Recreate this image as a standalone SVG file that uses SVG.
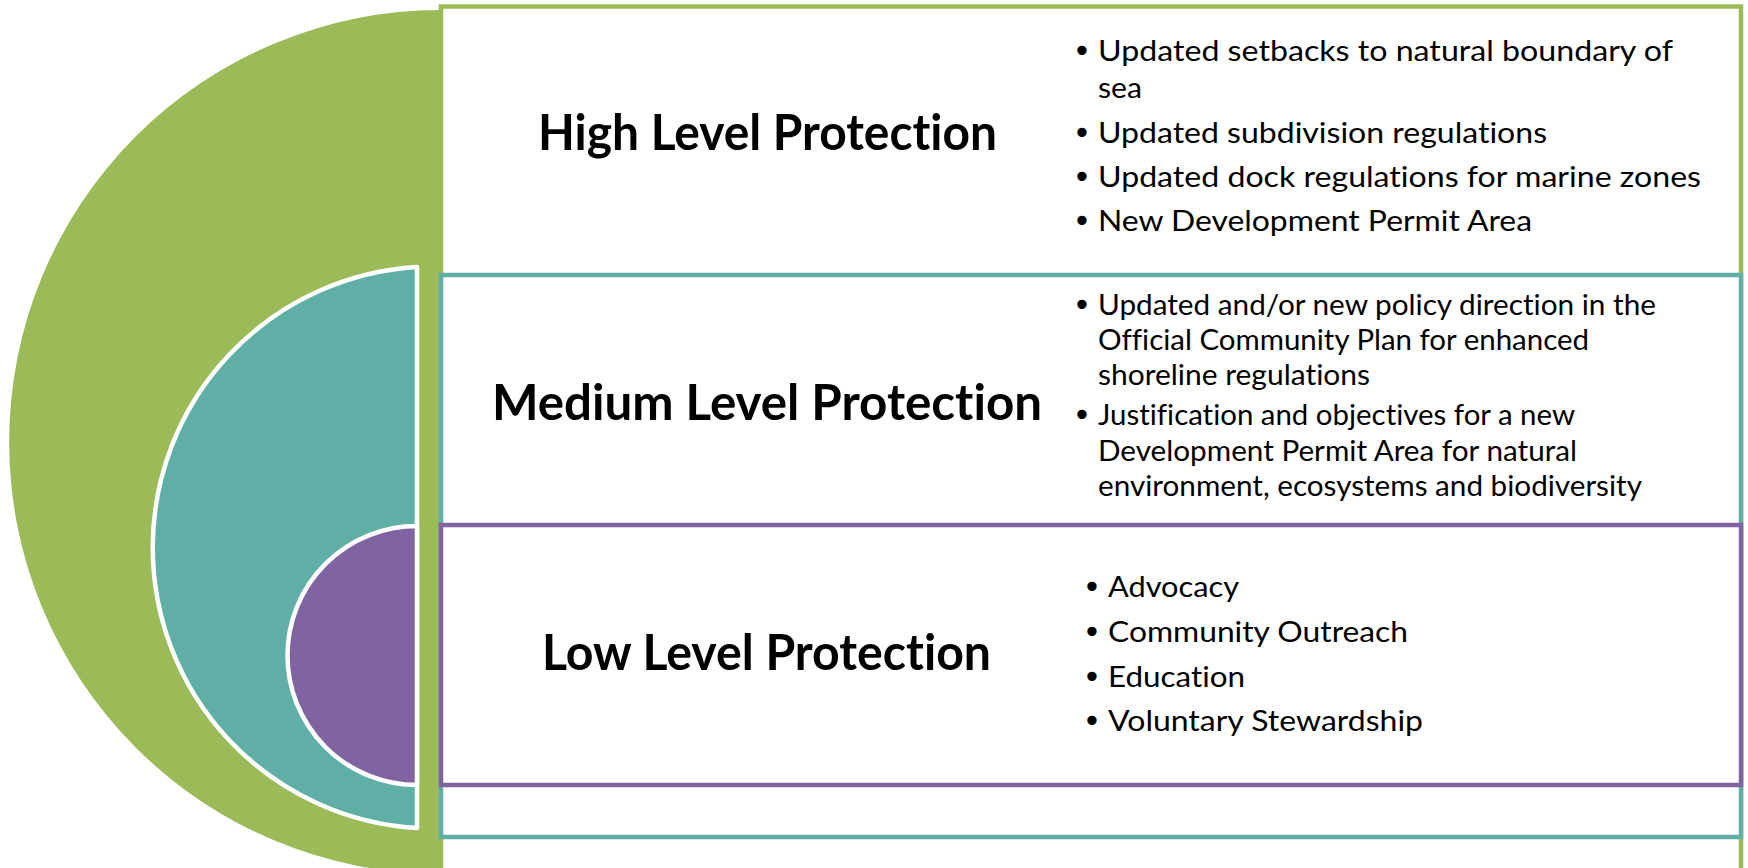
<svg xmlns="http://www.w3.org/2000/svg" width="1748" height="868" viewBox="0 0 1748 868">
  <style>
    text { font-variant-ligatures: none; font-feature-settings: "liga" 0, "clig" 0; }
    .title { font-family: Lato, "Open Sans", "Liberation Sans", sans-serif; font-weight: 700; font-size: 49px; fill: #000; }
    .item { font-family: Lato, "Open Sans", "Liberation Sans", sans-serif; font-size: 28px; fill: #000; }
    .bul { font-family: "DejaVu Sans", "Liberation Sans", sans-serif; font-size: 32px; fill: #000; text-anchor: middle; }
    .box { fill: #ffffff; stroke-width: 4.5; }
    .half { stroke: #ffffff; stroke-width: 4.5; stroke-linejoin: round; }
  </style>
  <rect width="1748" height="868" fill="#ffffff"/>

  <g id="outer-disc">
    <path d="M 441 10 A 432 432 0 0 0 441 874 Z" fill="#9BBB59"/>
  </g>

  <g id="high-box">
    <rect class="box" x="441" y="6.5" width="1300" height="900" stroke="#9BBB59"/>
  </g>
  <g id="medium-box">
    <rect class="box" x="441" y="275" width="1300" height="562" stroke="#5FAFA6"/>
  </g>
  <g id="low-box">
    <rect class="box" x="441" y="525" width="1300" height="260" stroke="#8064A2"/>
  </g>

  <g id="middle-disc">
    <path class="half" d="M 417 267 A 281 281 0 0 0 417 828 Z" fill="#5FAFA6"/>
  </g>
  <g id="inner-disc">
    <path class="half" d="M 417 526 A 129.5 129.5 0 0 0 417 785 Z" fill="#8064A2"/>
  </g>

  <g id="high">
    <text class="title" x="538" y="150" textLength="459" lengthAdjust="spacingAndGlyphs">High Level Protection</text>
    <text class="bul" x="1082" y="62">•</text>
    <text class="item" x="1098" y="61" textLength="575" lengthAdjust="spacingAndGlyphs">Updated setbacks to natural boundary of</text>
    <text class="item" x="1098" y="98" textLength="44" lengthAdjust="spacingAndGlyphs">sea</text>
    <text class="bul" x="1082" y="144">•</text>
    <text class="item" x="1098" y="143" textLength="449" lengthAdjust="spacingAndGlyphs">Updated subdivision regulations</text>
    <text class="bul" x="1082" y="188">•</text>
    <text class="item" x="1098" y="187" textLength="603" lengthAdjust="spacingAndGlyphs">Updated dock regulations for marine zones</text>
    <text class="bul" x="1082" y="232">•</text>
    <text class="item" x="1098" y="231" textLength="434" lengthAdjust="spacingAndGlyphs">New Development Permit Area</text>
  </g>

  <g id="medium">
    <text class="title" x="492" y="420" textLength="550" lengthAdjust="spacingAndGlyphs">Medium Level Protection</text>
    <text class="bul" x="1082" y="316">•</text>
    <text class="item" x="1098" y="315" textLength="558" lengthAdjust="spacingAndGlyphs">Updated and/or new policy direction in the</text>
    <text class="item" x="1098" y="350" textLength="491" lengthAdjust="spacingAndGlyphs">Official Community Plan for enhanced</text>
    <text class="item" x="1098" y="385" textLength="272" lengthAdjust="spacingAndGlyphs">shoreline regulations</text>
    <text class="bul" x="1082" y="426">•</text>
    <text class="item" x="1098" y="425" textLength="477" lengthAdjust="spacingAndGlyphs">Justification and objectives for a new</text>
    <text class="item" x="1098" y="461" textLength="479" lengthAdjust="spacingAndGlyphs">Development Permit Area for natural</text>
    <text class="item" x="1098" y="496" textLength="544" lengthAdjust="spacingAndGlyphs">environment, ecosystems and biodiversity</text>
  </g>

  <g id="low">
    <text class="title" x="542" y="670" textLength="449" lengthAdjust="spacingAndGlyphs">Low Level Protection</text>
    <text class="bul" x="1092" y="598">•</text>
    <text class="item" x="1108" y="597" textLength="131" lengthAdjust="spacingAndGlyphs">Advocacy</text>
    <text class="bul" x="1092" y="643">•</text>
    <text class="item" x="1108" y="642" textLength="300" lengthAdjust="spacingAndGlyphs">Community Outreach</text>
    <text class="bul" x="1092" y="688">•</text>
    <text class="item" x="1108" y="687" textLength="137" lengthAdjust="spacingAndGlyphs">Education</text>
    <text class="bul" x="1092" y="732">•</text>
    <text class="item" x="1108" y="731" textLength="315" lengthAdjust="spacingAndGlyphs">Voluntary Stewardship</text>
  </g>

  <g id="connectors"></g>
</svg>
